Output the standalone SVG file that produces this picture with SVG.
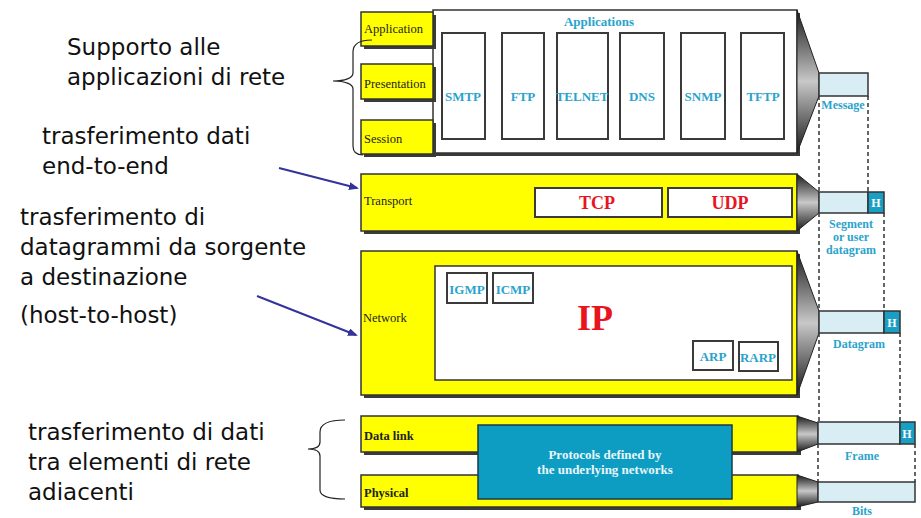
<svg xmlns="http://www.w3.org/2000/svg" width="921" height="518" viewBox="0 0 921 518">
  <style>
    .note { font-family: "DejaVu Sans", "Open Sans", sans-serif; font-size: 23px; fill: #111; }
    .layer { font-family: "Liberation Serif", serif; font-size: 12.5px; fill: #222; }
    .proto { font-family: "Liberation Serif", serif; font-size: 13px; font-weight: bold; fill: #2aa3cc; text-anchor: middle; }
    .red { font-family: "Liberation Serif", serif; font-weight: bold; fill: #e8141e; text-anchor: middle; }
    .unit { font-family: "Liberation Serif", serif; font-size: 12px; font-weight: bold; fill: #2aa3cc; text-anchor: middle; }
    .yellow { fill: #ffff00; stroke: #333; stroke-width: 1.5; }
    .white { fill: #ffffff; stroke: #333; stroke-width: 1.5; }
    .shadow { fill: #3a3a3a; }
    .pbox { fill: #ffffff; stroke: #3a3a3a; stroke-width: 2; }
    .pdu { fill: #d8edf4; stroke: #333; stroke-width: 1.5; }
    .hdr { fill: #1a9fc4; stroke: #333; stroke-width: 1.5; }
    .htext { font-family: "Liberation Serif", serif; font-size: 12px; font-weight: bold; fill: #ffffff; text-anchor: middle; }
    .funnel { fill: url(#funnelGrad); stroke: #222; stroke-width: 1; }
    .dash { stroke: #333; stroke-width: 1.5; stroke-dasharray: 4 3; fill: none; }
    .brace { fill: none; stroke: #222; stroke-width: 1.2; }
    .arrow { stroke: #33339a; stroke-width: 2; fill: none; marker-end: url(#arrowHead); }
  </style>
  <defs>
    <linearGradient id="funnelGrad" x1="0" y1="0" x2="0" y2="1">
      <stop offset="0" stop-color="#1a1a1a"/>
      <stop offset="0.5" stop-color="#c8c8c8"/>
      <stop offset="1" stop-color="#1a1a1a"/>
    </linearGradient>
    <marker id="arrowHead" markerWidth="10" markerHeight="8" refX="8" refY="4" orient="auto" markerUnits="userSpaceOnUse">
      <path d="M0,0 L10,4 L0,8 Z" fill="#33339a"/>
    </marker>
  </defs>

  <rect width="921" height="518" fill="#ffffff"/>

  <!-- Annotations on the left -->
  <g id="note-app">
    <text class="note" x="67" y="55">Supporto alle</text>
    <text class="note" x="67" y="85">applicazioni di rete</text>
  </g>
  <g id="note-transport">
    <text class="note" x="42" y="144">trasferimento dati</text>
    <text class="note" x="42" y="174">end-to-end</text>
  </g>
  <g id="note-network">
    <text class="note" x="20" y="225">trasferimento di</text>
    <text class="note" x="20" y="255">datagrammi da sorgente</text>
    <text class="note" x="20" y="285">a destinazione</text>
    <text class="note" x="20" y="323">(host-to-host)</text>
  </g>
  <g id="note-link">
    <text class="note" x="28" y="440">trasferimento di dati</text>
    <text class="note" x="28" y="470">tra elementi di rete</text>
    <text class="note" x="28" y="500">adiacenti</text>
  </g>

  <!-- Upper layers: application, presentation, session -->
  <g id="upper-layers">
    <rect class="shadow" x="436" y="13" width="364" height="143"/>
    <rect class="shadow" x="364" y="153" width="72" height="3"/>
    <rect class="white" x="433" y="10" width="364" height="143"/>
    <polygon class="funnel" points="797,10 819,73 819,96 797,153"/>
    <rect class="shadow" x="364" y="15" width="72" height="34"/>
    <rect class="yellow" x="361" y="12" width="72" height="34"/>
    <text class="layer" x="364" y="33">Application</text>
    <rect class="shadow" x="364" y="67" width="72" height="35"/>
    <rect class="yellow" x="361" y="64" width="72" height="35"/>
    <text class="layer" x="364" y="88" font-size="11.5">Presentation</text>
    <rect class="shadow" x="364" y="123" width="72" height="34"/>
    <rect class="yellow" x="361" y="120" width="72" height="34"/>
    <text class="layer" x="364" y="143">Session</text>
    <text class="proto" x="599" y="26">Applications</text>
  </g>
  <g id="smtp"><rect class="pbox" x="442" y="33" width="43" height="106"/><text class="proto" x="463" y="101">SMTP</text></g>
  <g id="ftp"><rect class="pbox" x="502" y="33" width="42" height="106"/><text class="proto" x="523" y="101">FTP</text></g>
  <g id="telnet"><rect class="pbox" x="557" y="33" width="51" height="106"/><text class="proto" x="582" y="101">TELNET</text></g>
  <g id="dns"><rect class="pbox" x="620" y="33" width="44" height="106"/><text class="proto" x="642" y="101">DNS</text></g>
  <g id="snmp"><rect class="pbox" x="681" y="33" width="44" height="106"/><text class="proto" x="703" y="101">SNMP</text></g>
  <g id="tftp"><rect class="pbox" x="741" y="33" width="43" height="106"/><text class="proto" x="763" y="101">TFTP</text></g>

  <!-- Transport layer -->
  <g id="transport">
    <rect class="shadow" x="364" y="177" width="436" height="57"/>
    <rect class="yellow" x="361" y="174" width="436" height="57"/>
    <polygon class="funnel" points="797,174 819,192 819,213 797,231"/>
    <text class="layer" x="364" y="205">Transport</text>
  </g>
  <g id="tcp"><rect class="pbox" x="535" y="188" width="127" height="29"/><text class="red" x="597" y="209" font-size="18">TCP</text></g>
  <g id="udp"><rect class="pbox" x="668" y="188" width="124" height="29"/><text class="red" x="730" y="209" font-size="18">UDP</text></g>

  <!-- Network layer -->
  <g id="network">
    <rect class="shadow" x="364" y="254" width="436" height="144"/>
    <rect class="yellow" x="361" y="251" width="436" height="144"/>
    <polygon class="funnel" points="797,251 819,311 819,333 797,395"/>
    <rect class="white" x="435" y="266" width="357" height="114"/>
    <text class="layer" x="363" y="322">Network</text>
    <text class="red" x="595" y="330" font-size="36">IP</text>
  </g>
  <g id="igmp"><rect class="pbox" x="447" y="273" width="40" height="30"/><text class="proto" x="467" y="294" font-size="11">IGMP</text></g>
  <g id="icmp"><rect class="pbox" x="493" y="273" width="40" height="30"/><text class="proto" x="513" y="294" font-size="11">ICMP</text></g>
  <g id="arp"><rect class="pbox" x="693" y="341" width="40" height="29"/><text class="proto" x="713" y="361" font-size="12">ARP</text></g>
  <g id="rarp"><rect class="pbox" x="739" y="342" width="39" height="29"/><text class="proto" x="758" y="362" font-size="11.5">RARP</text></g>

  <!-- Data link and physical layers -->
  <g id="datalink">
    <rect class="shadow" x="364" y="419" width="437" height="36"/>
    <rect class="yellow" x="361" y="416" width="437" height="36"/>
    <polygon class="funnel" points="797,416 818,423 818,444 797,452"/>
    <text class="layer" x="364" y="440" font-weight="bold" font-size="12">Data link</text>
  </g>
  <g id="physical">
    <rect class="shadow" x="364" y="478" width="437" height="32"/>
    <rect class="yellow" x="361" y="475" width="437" height="32"/>
    <polygon class="funnel" points="797,475 818,482 818,502 797,507"/>
    <text class="layer" x="364" y="497" font-weight="bold" font-size="12">Physical</text>
  </g>
  <g id="underlying">
    <rect x="478" y="425" width="254" height="74" fill="#0e9dc2" stroke="#1a3a4a" stroke-width="1.5"/>
    <text x="605" y="459" font-family="Liberation Serif, serif" font-size="13" font-weight="bold" fill="#e8f6fb" text-anchor="middle">Protocols defined by</text>
    <text x="605" y="474" font-family="Liberation Serif, serif" font-size="13" font-weight="bold" fill="#e8f6fb" text-anchor="middle">the underlying networks</text>
  </g>

  <!-- Data units carried at each level -->
  <g id="pdu-message">
    <rect class="pdu" x="819" y="73" width="49" height="23"/>
    <text class="unit" x="843" y="109">Message</text>
  </g>
  <g id="pdu-segment">
    <rect class="pdu" x="819" y="192" width="49" height="21"/>
    <rect class="hdr" x="868" y="192" width="16" height="21"/>
    <text class="htext" x="876" y="207">H</text>
    <text class="unit" x="851" y="228">Segment</text>
    <text class="unit" x="851" y="241">or user</text>
    <text class="unit" x="851" y="254">datagram</text>
  </g>
  <g id="pdu-datagram">
    <rect class="pdu" x="819" y="311" width="65" height="22"/>
    <rect class="hdr" x="884" y="311" width="16" height="22"/>
    <text class="htext" x="892" y="327">H</text>
    <text class="unit" x="859" y="348">Datagram</text>
  </g>
  <g id="pdu-frame">
    <rect class="pdu" x="818" y="422" width="82" height="22"/>
    <rect class="hdr" x="900" y="422" width="15" height="22"/>
    <text class="htext" x="907" y="438">H</text>
    <text class="unit" x="862" y="460">Frame</text>
  </g>
  <g id="pdu-bits">
    <rect class="pdu" x="818" y="482" width="97" height="20"/>
    <text class="unit" x="862" y="515">Bits</text>
  </g>

  <!-- Connectors: dashed guides, braces and pointer arrows -->
  <g id="connectors">
    <line class="dash" x1="819" y1="96" x2="819" y2="192"/>
    <line class="dash" x1="868" y1="96" x2="868" y2="192"/>
    <line class="dash" x1="819" y1="213" x2="819" y2="311"/>
    <line class="dash" x1="884" y1="213" x2="884" y2="311"/>
    <line class="dash" x1="819" y1="333" x2="819" y2="422"/>
    <line class="dash" x1="900" y1="333" x2="900" y2="422"/>
    <line class="dash" x1="818" y1="444" x2="818" y2="482"/>
    <line class="dash" x1="915" y1="444" x2="915" y2="482"/>
    <path class="brace" d="M372,40 C359,40 353,44 353,52 L353,73 C353,78 345,81 333,81 C345,81 353,84 353,89 L353,146 C353,152 356,155 363,155"/>
    <path class="brace" d="M345,420 C328,420 320,424 320,432 L320,442 C320,447 315,449 308,449 C315,449 320,451 320,456 L320,490 C320,496 328,499 345,499"/>
    <line class="arrow" x1="279" y1="168" x2="357" y2="188"/>
    <line class="arrow" x1="257" y1="296" x2="356" y2="335"/>
  </g>
</svg>
